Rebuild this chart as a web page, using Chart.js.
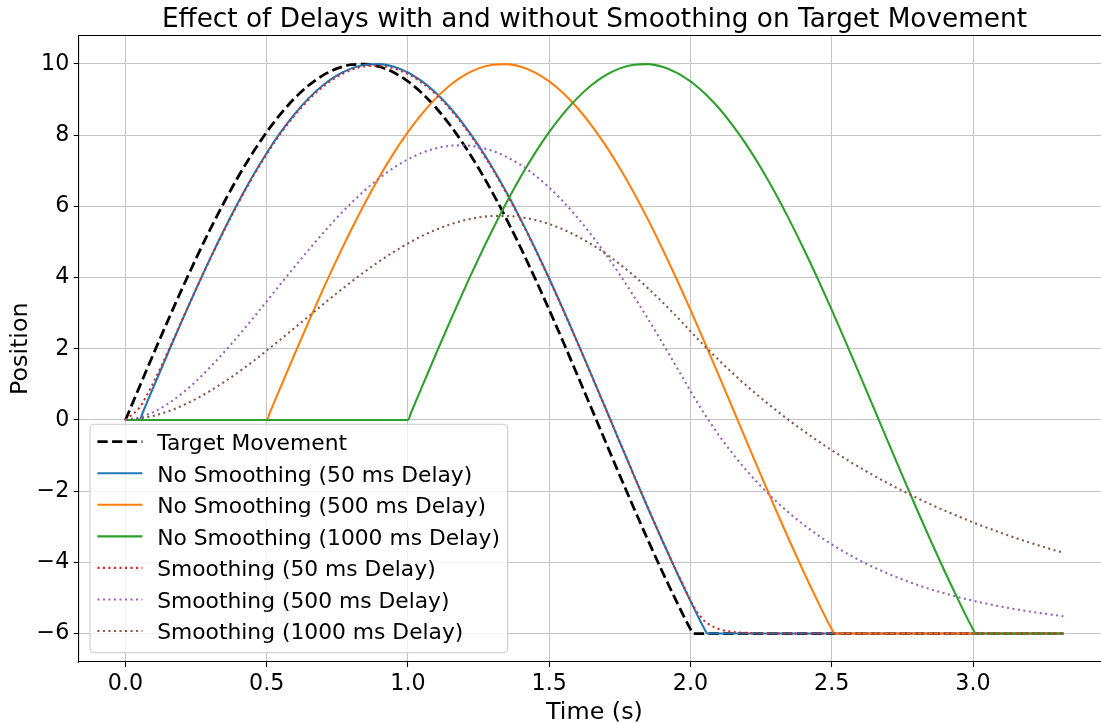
<!DOCTYPE html>
<html>
<head>
<meta charset="utf-8">
<script src="https://cdn.jsdelivr.net/npm/chart.js@4.4.1/dist/chart.umd.min.js"></script>
<style>
  html, body { margin: 0; padding: 0; overflow: hidden; background: #fff; }
  canvas { display: block; }
</style>
</head>
<body>
<canvas id="c" width="1112" height="723"></canvas>
<script>
// ---- data ----
const time = [
  0,0.05,0.06,0.1,0.15,0.2,0.25,0.3,0.35,0.4,0.45,
  0.5,0.51,0.55,0.6,0.65,0.7,0.75,0.8,0.85,0.9,0.95,
  1,1.01,1.05,1.1,1.15,1.2,1.25,1.3,1.35,1.4,1.45,
  1.5,1.55,1.6,1.65,1.7,1.75,1.8,1.85,1.9,1.95,
  2,2.01,2.05,2.06,2.1,2.15,2.2,2.25,2.3,2.35,
  2.4,2.45,2.5,2.51,2.55,2.6,2.65,2.7,2.75,2.8,
  2.85,2.9,2.95,3,3.01,3.05,3.1,3.15,3.2,3.25,
  3.3,3.32
];
const targetMovement = [
  0,0.941,1.129,1.874,2.790,3.681,4.540,5.358,6.129,6.846,7.501,
  8.090,8.200,8.607,9.048,9.409,9.686,9.877,9.980,9.995,9.921,9.759,
  9.511,9.451,9.178,8.763,8.271,7.705,7.071,6.374,5.621,4.818,3.972,
  3.090,2.181,1.253,0.314,-0.628,-1.564,-2.487,-3.387,-4.258,-5.090,
  -5.878,-6,-6,-6,-6,-6,-6,-6,-6,-6,
  -6,-6,-6,-6,-6,-6,-6,-6,-6,-6,
  -6,-6,-6,-6,-6,-6,-6,-6,-6,-6,
  -6,-6
];
const noSmooth50 = [
  0,0,0.188,0.941,1.874,2.790,3.681,4.540,5.358,6.129,6.846,
  7.501,7.625,8.090,8.607,9.048,9.409,9.686,9.877,9.980,9.995,9.921,
  9.759,9.716,9.511,9.178,8.763,8.271,7.705,7.071,6.374,5.621,4.818,
  3.972,3.090,2.181,1.253,0.314,-0.628,-1.564,-2.487,-3.387,-4.258,
  -5.090,-5.252,-5.878,-6,-6,-6,-6,-6,-6,-6,
  -6,-6,-6,-6,-6,-6,-6,-6,-6,-6,
  -6,-6,-6,-6,-6,-6,-6,-6,-6,-6,
  -6,-6
];
const noSmooth500 = [
  0,0,0,0,0,0,0,0,0,0,0,
  0,0.188,0.941,1.874,2.790,3.681,4.540,5.358,6.129,6.846,7.501,
  8.090,8.200,8.607,9.048,9.409,9.686,9.877,9.980,9.995,9.921,9.759,
  9.511,9.178,8.763,8.271,7.705,7.071,6.374,5.621,4.818,3.972,
  3.090,2.910,2.181,1.997,1.253,0.314,-0.628,-1.564,-2.487,-3.387,
  -4.258,-5.090,-5.878,-6,-6,-6,-6,-6,-6,-6,
  -6,-6,-6,-6,-6,-6,-6,-6,-6,-6,
  -6,-6
];
const noSmooth1000 = [
  0,0,0,0,0,0,0,0,0,0,0,
  0,0,0,0,0,0,0,0,0,0,0,
  0,0.188,0.941,1.874,2.790,3.681,4.540,5.358,6.129,6.846,7.501,
  8.090,8.607,9.048,9.409,9.686,9.877,9.980,9.995,9.921,9.759,
  9.511,9.451,9.178,9.101,8.763,8.271,7.705,7.071,6.374,5.621,
  4.818,3.972,3.090,2.910,2.181,1.253,0.314,-0.628,-1.564,-2.487,
  -3.387,-4.258,-5.090,-5.878,-6,-6,-6,-6,-6,-6,
  -6,-6
];
const smooth50 = [
  0,0.347,0.472,1.066,1.915,2.798,3.674,4.525,5.338,6.104,6.818,
  7.470,7.593,8.056,8.570,9.009,9.368,9.644,9.834,9.936,9.951,9.877,
  9.715,9.673,9.468,9.136,8.723,8.233,7.669,7.038,6.344,5.594,4.794,
  3.952,3.074,2.169,1.245,0.310,-0.628,-1.560,-2.479,-3.375,-4.242,
  -5.070,-5.231,-5.654,-5.717,-5.873,-5.953,-5.983,-5.994,-5.998,-5.999,
  -6,-6,-6,-6,-6,-6,-6,-6,-6,-6,
  -6,-6,-6,-6,-6,-6,-6,-6,-6,-6,
  -6,-6
];
const smooth500 = [
  0,0.072,0.101,0.227,0.454,0.745,1.091,1.483,1.911,2.368,2.845,
  3.334,3.433,3.827,4.316,4.795,5.256,5.693,6.100,6.471,6.801,7.086,
  7.322,7.361,7.506,7.633,7.704,7.715,7.665,7.556,7.386,7.156,6.869,
  6.526,6.129,5.682,5.188,4.652,4.077,3.469,2.833,2.174,1.497,
  0.811,0.676,0.162,0.040,-0.424,-0.955,-1.435,-1.869,-2.262,-2.618,
  -2.940,-3.231,-3.495,-3.544,-3.733,-3.949,-4.144,-4.321,-4.480,-4.625,
  -4.756,-4.874,-4.981,-5.078,-5.097,-5.166,-5.245,-5.317,-5.382,-5.441,
  -5.494,-5.514
];
const smooth1000 = [
  0,0.037,0.052,0.118,0.239,0.399,0.593,0.818,1.069,1.345,1.639,
  1.948,2.012,2.268,2.595,2.924,3.252,3.573,3.885,4.183,4.464,4.724,
  4.961,5.004,5.170,5.349,5.497,5.610,5.688,5.728,5.730,5.694,5.618,
  5.503,5.350,5.159,4.932,4.670,4.375,4.049,3.694,3.314,2.913,
  2.491,2.406,2.077,1.996,1.683,1.308,0.952,0.613,0.290,-0.017,
  -0.308,-0.586,-0.850,-0.901,-1.101,-1.340,-1.567,-1.784,-1.989,-2.185,
  -2.371,-2.548,-2.716,-2.876,-2.908,-3.029,-3.174,-3.312,-3.443,-3.567,
  -3.686,-3.732
];
const seriesLabels = [
  'Target Movement',
  'No Smoothing (50 ms Delay)',
  'No Smoothing (500 ms Delay)',
  'No Smoothing (1000 ms Delay)',
  'Smoothing (50 ms Delay)',
  'Smoothing (500 ms Delay)',
  'Smoothing (1000 ms Delay)'
];
const xTicks = [0, 0.5, 1, 1.5, 2, 2.5, 3];
const yTicks = [-6, -4, -2, 0, 2, 4, 6, 8, 10];

// ---- styles ----
const seriesValues = [targetMovement, noSmooth50, noSmooth500, noSmooth1000, smooth50, smooth500, smooth1000];
const seriesStyles = [
  { color: '#000000', width: 2.78, dash: [10.28, 4.44] },
  { color: '#1f77b4', width: 2.08, dash: [] },
  { color: '#ff7f0e', width: 2.08, dash: [] },
  { color: '#2ca02c', width: 2.08, dash: [] },
  { color: '#d62728', width: 2.08, dash: [2.08, 3.44] },
  { color: '#9467bd', width: 2.08, dash: [2.08, 3.44] },
  { color: '#8c564b', width: 2.08, dash: [2.08, 3.44] }
];

const datasets = seriesValues.map((vals, i) => ({
  label: seriesLabels[i],
  data: time.map((t, j) => ({ x: t, y: vals[j] })),
  borderColor: seriesStyles[i].color,
  backgroundColor: seriesStyles[i].color,
  borderWidth: seriesStyles[i].width,
  borderDash: seriesStyles[i].dash,
  borderCapStyle: 'butt',
  borderJoinStyle: 'round',
  cubicInterpolationMode: 'monotone',
  pointRadius: 0,
  pointHoverRadius: 0,
  fill: false,
  order: seriesValues.length - i
}));

Chart.defaults.font.family = '"DejaVu Sans", sans-serif';
Chart.defaults.color = '#000';

const FONT = '"DejaVu Sans", sans-serif';

const frameAndLegend = {
  id: 'frameAndLegend',
  afterDatasetsDraw(chart) {
    const ctx = chart.ctx;
    const a = chart.chartArea;
    ctx.save();
    // top and right spines
    ctx.strokeStyle = '#000';
    ctx.lineWidth = 1.1;
    ctx.setLineDash([]);
    ctx.beginPath();
    ctx.moveTo(a.left, a.top);
    ctx.lineTo(a.right, a.top);
    ctx.lineTo(a.right, a.bottom);
    ctx.stroke();

    // legend box (lower left)
    const bx = a.left + 11.4, bw = 417.7, bh = 228.4;
    const by = a.bottom - 9.3 - bh;
    ctx.beginPath();
    ctx.roundRect(bx, by, bw, bh, 4.4);
    ctx.fillStyle = 'rgba(255,255,255,0.8)';
    ctx.fill();
    ctx.strokeStyle = '#cccccc';
    ctx.lineWidth = 1.1;
    ctx.stroke();

    chart.data.datasets.forEach((ds, i) => {
      const y = by + 17.4 + i * 31.55;
      ctx.beginPath();
      ctx.setLineDash(ds.borderDash || []);
      ctx.lineCap = 'butt';
      ctx.lineWidth = ds.borderWidth;
      ctx.strokeStyle = ds.borderColor;
      ctx.moveTo(bx + 7.4, y);
      ctx.lineTo(bx + 52.4, y);
      ctx.stroke();
      ctx.setLineDash([]);
      ctx.fillStyle = '#000';
      ctx.font = '21.8px ' + FONT;
      ctx.textAlign = 'left';
      ctx.textBaseline = 'alphabetic';
      ctx.fillText(ds.label, bx + 67.2, y + 8.3);
    });
    ctx.restore();
  }
};

const minusFmt = v => (v < 0 ? '\u2212' + Math.abs(v) : String(v));

new Chart(document.getElementById('c'), {
  type: 'line',
  data: { datasets },
  plugins: [frameAndLegend],
  options: {
    responsive: false,
    devicePixelRatio: 1,
    animation: false,
    events: [],
    layout: { padding: { left: 0, right: 1.7, top: 0, bottom: 0 } },
    plugins: {
      legend: { display: false },
      tooltip: { enabled: false },
      title: {
        display: true,
        text: 'Effect of Delays with and without Smoothing on Target Movement',
        fullSize: false,
        color: '#000',
        font: { size: 26.3, weight: 'normal', lineHeight: 1 },
        padding: { top: 6.9, bottom: 2.3 }
      }
    },
    scales: {
      x: {
        type: 'linear',
        bounds: 'data',
        min: -0.166,
        max: 3.486,
        afterBuildTicks: s => { s.ticks = xTicks.map(v => ({ value: v })); },
        afterFit: s => { s.height = 61; },
        ticks: {
          callback: v => Number(v).toFixed(1),
          font: { size: 22.2 },
          color: '#000',
          padding: 4.1,
          maxRotation: 0,
          autoSkip: false
        },
        grid: {
          color: '#c4c4c4',
          lineWidth: 1,
          drawTicks: true,
          tickLength: 4.9,
          tickWidth: 1.1,
          tickColor: '#000'
        },
        border: { display: true, color: '#000', width: 1.1 },
        title: {
          display: true,
          text: 'Time (s)',
          color: '#000',
          font: { size: 23.8, lineHeight: 0.8 },
          padding: { top: 0, bottom: 0.7 }
        }
      },
      y: {
        type: 'linear',
        bounds: 'data',
        min: -6.8,
        max: 10.8,
        afterBuildTicks: s => { s.ticks = yTicks.map(v => ({ value: v })); },
        afterFit: s => { s.width = 78.6; },
        ticks: {
          callback: v => minusFmt(v),
          font: { size: 22.2 },
          color: '#000',
          padding: 4.4,
          autoSkip: false
        },
        grid: {
          color: '#c4c4c4',
          lineWidth: 1,
          drawTicks: true,
          tickLength: 4.9,
          tickWidth: 1.1,
          tickColor: '#000'
        },
        border: { display: true, color: '#000', width: 1.1 },
        title: {
          display: true,
          text: 'Position',
          color: '#000',
          font: { size: 23.8, lineHeight: 0.8 },
          padding: { top: 11.6, bottom: 0 }
        }
      }
    }
  }
});
</script>
</body>
</html>
